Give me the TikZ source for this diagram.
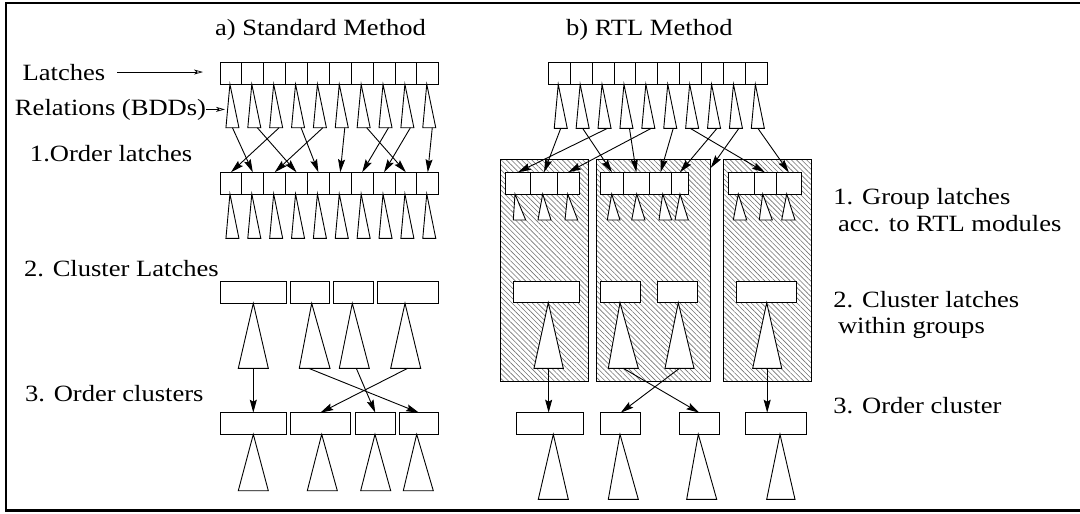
\documentclass[tikz,border=0pt]{standalone}
\usepackage{fontspec}
\setmainfont{Liberation Serif}[FakeStretch=1.14]
\usetikzlibrary{arrows.meta,patterns.meta,calc}
\tikzset{
 cellbox/.style={draw, line width=0.9pt, fill=white, rectangle, inner sep=0pt, outer sep=0pt, anchor=north west},
 grpbox/.style={draw, line width=0.9pt, rectangle, inner sep=0pt, outer sep=0pt, anchor=north west,
   pattern={Lines[angle=-45,distance=3.6pt,line width=0.6pt]}, pattern color=black!55},
 trishape/.style={draw, line width=0.9pt, fill=white, line join=miter},
 conn/.style={line width=0.9pt, -{Stealth[length=13pt,width=7pt,inset=2pt]}},
 labarr/.style={line width=0.7pt, -{Stealth[length=9pt,width=5pt,inset=2.5pt,open]}},
 lab/.style={anchor=base west, inner sep=0pt, outer sep=0pt, font=\fontsize{23.3}{27}\selectfont},
 framestyle/.style={line width=2.5pt},
}
\newcommand\bx[6][cellbox]{\node[#1, minimum width={(#5-#3)*1pt}, minimum height={(#6-#4)*1pt}] (#2) at (#3,#4) {};}
\newcommand\tri[6]{\draw[trishape] (#2,#3) -- (#4,#6) -- (#5,#6) -- cycle; \coordinate (#1) at ({(#4+#5)/2},#6);}
\begin{document}
\begin{tikzpicture}[x=1pt,y=-1pt]
\useasboundingbox (0,0) rectangle (1080,514);
\draw[framestyle] (1080,3) -- (6,3) -- (6,510.3) -- (1080,510.3);

% titles and labels
\node[lab] (hA) at (215,35) {a) Standard Method};
\node[lab] (hB) at (566,35) {b) RTL Method};
\node[lab] (latlab) at (22.7,80) {Latches};
\node[lab] (rellab) at (15,115) {Relations (BDDs)};
\node[lab] (s1) at (30,161.7) {1.Order latches};
\node[lab] (s2) at (24,276) {2. Cluster Latches};
\node[lab] (s3) at (25,401.7) {3. Order clusters};
\node[lab] (r1) at (833.3,204.5) {1. Group latches};
\node[lab] (r1b) at (838,231.5) {acc. to RTL modules};
\node[lab] (r2) at (833.3,307) {2. Cluster latches};
\node[lab] (r2b) at (838,333.5) {within groups};
\node[lab] (r3) at (833.3,413.5) {3. Order cluster};

% group boxes
\bx[grpbox]{Grp1}{500.7}{159}{588.3}{381.7}
\bx[grpbox]{Grp2}{596}{159}{710.7}{381.7}
\bx[grpbox]{Grp3}{723.3}{159}{811}{381.7}

% standard method latch rows
\foreach \i in {1,...,10}{
 \pgfmathsetmacro\xa{220+(\i-1)*21.87}
 \pgfmathsetmacro\xb{\xa+21.87}
 \pgfmathsetmacro\cx{\xa+10.935}
 \bx{L\i}{\xa}{62.7}{\xb}{84.3}
 \bx{M\i}{\xa}{172.3}{\xb}{194}
 \tri{T\i}{\cx-1}{84.3}{\cx-5}{\cx+8}{127.7}
 \tri{U\i}{\cx-1}{194}{\cx-5}{\cx+8}{238.3}
}
% RTL top latch row
\foreach \i in {1,...,10}{
 \pgfmathsetmacro\xa{548.3+(\i-1)*21.9}
 \pgfmathsetmacro\xb{\xa+21.9}
 \pgfmathsetmacro\cx{\xa+10.95}
 \bx{RL\i}{\xa}{62.7}{\xb}{84.3}
 \tri{RT\i}{\cx-1}{84.3}{\cx-5}{\cx+8}{128.3}
}

% label arrows
\coordinate (latend) at (203,71.7);
\coordinate (relend) at (225,109);
\draw[labarr] ([xshift=12pt]latlab.east) -- (latlab.east -| latend);
\draw[labarr] (rellab.east) -- (rellab.east -| relend);

% group latches
\bx{A1}{505}{172.3}{530.7}{194}
\bx{A2}{530.7}{172.3}{557.3}{194}
\bx{A3}{557.3}{172.3}{579}{194}
\bx{B1}{600.7}{172.3}{623.3}{194}
\bx{B2}{623.3}{172.3}{649.3}{194}
\bx{B3}{649.3}{172.3}{671.7}{194}
\bx{B4}{671.7}{172.3}{688.3}{194}
\bx{E1}{728.3}{172.3}{754}{194}
\bx{E2}{754}{172.3}{776}{194}
\bx{E3}{776}{172.3}{801.7}{194}
\tri{AT1}{515}{194}{513.3}{525.7}{220}
\tri{AT2}{542.7}{194}{538}{551}{220}
\tri{AT3}{567.7}{194}{565}{577.7}{220}
\tri{BT1}{611.7}{194}{607.3}{620}{220}
\tri{BT2}{636.7}{194}{631.7}{645}{220}
\tri{BT3}{662.7}{194}{659}{671.7}{220}
\tri{BT4}{680}{194}{675}{688.3}{220}
\tri{ET1}{738.3}{194}{733.3}{746.7}{220}
\tri{ET2}{762.7}{194}{759.3}{772.3}{220}
\tri{ET3}{786.7}{194}{781.7}{795}{220}

% standard clusters
\bx{C1}{220}{281.7}{286}{303.3}
\bx{C2}{290}{281.7}{329.3}{303.3}
\bx{C3}{333.3}{281.7}{373.3}{303.3}
\bx{C4}{377.3}{281.7}{438.7}{303.3}
\tri{CT1}{253.3}{303.3}{238.3}{268.3}{368.3}
\tri{CT2}{311.7}{303.3}{299.3}{330}{368.3}
\tri{CT3}{352.3}{303.3}{339.3}{369.3}{368.3}
\tri{CT4}{405}{303.3}{390.7}{420.7}{368.3}
\bx{D1}{220}{412.7}{286}{434.3}
\bx{D2}{290}{412.7}{350.7}{434.3}
\bx{D3}{355.3}{412.7}{395.3}{434.3}
\bx{D4}{399.3}{412.7}{438.7}{434.3}
\tri{DT1}{253.3}{434.3}{238.3}{268.3}{490.7}
\tri{DT2}{321.7}{434.3}{307.3}{337.3}{490.7}
\tri{DT3}{375}{434.3}{360.7}{390.7}{490.7}
\tri{DT4}{416.7}{434.3}{403.3}{433.3}{490.7}

% RTL clusters
\bx{K1}{513.3}{281.7}{579}{302.7}
\bx{K2}{600.7}{281.7}{640}{302.7}
\bx{K3}{657.3}{281.7}{697.3}{302.7}
\bx{K4}{736}{281.7}{796.7}{302.7}
\tri{KT1}{548.3}{302.7}{534}{563.3}{368.3}
\tri{KT2}{620}{302.7}{608.3}{638.3}{368.3}
\tri{KT3}{678.3}{302.7}{665}{694}{368.3}
\tri{KT4}{766.7}{302.7}{752.7}{781.7}{368.3}
\bx{R1}{516.7}{412.7}{583.3}{434.3}
\bx{R2}{600.7}{412.7}{640.7}{434.3}
\bx{R3}{679.3}{412.7}{719.3}{434.3}
\bx{R4}{745.7}{412.7}{806.7}{434.3}
\tri{QT1}{553.3}{434.3}{538.3}{568.3}{499.3}
\tri{QT2}{620}{434.3}{608.3}{638.3}{499.3}
\tri{QT3}{698.3}{434.3}{686.7}{716.7}{499.3}
\tri{QT4}{780}{434.3}{766.7}{795}{499.3}

% standard method arrows
\draw[conn] (T1) -- (M2.north);
\draw[conn] ([xshift=3pt]T3) -- (M1.north);
\draw[conn] ([xshift=3pt]T2) -- (M4.north);
\draw[conn] ([xshift=3pt]T5) -- (M3.north);
\draw[conn] ([xshift=3pt]T4) -- (M5.north);
\draw[conn] ([xshift=3pt]T6) -- (M6.north);
\draw[conn] ([xshift=3pt]T8) -- (M7.north);
\draw[conn] ([xshift=3pt]T9) -- (M8.north);
\draw[conn] ([xshift=3pt]T7) -- (M9.north);
\draw[conn] ([xshift=3pt]T10) -- (M10.north);
\draw[conn] (CT1) -- (CT1 |- D1.north);
\draw[conn] ([xshift=-6pt]CT2) -- (D4.north);
\draw[conn] ([xshift=2pt]CT3) -- (D3.north);
\draw[conn] ([xshift=2pt]CT4) -- (D2.north);

% RTL arrows
\coordinate (g2edge) at ($(Grp2.north east)!0.04!(Grp2.south east)$);
\draw[conn] (RT1) -- (A2.north);
\draw[conn] ([xshift=3pt]RT3) -- (A1.north);
\draw[conn] ([xshift=3pt]RT5) -- (A3.north);
\draw[conn] (RT2) -- (B1.north);
\draw[conn] ([xshift=3pt]RT4) -- (B2.north);
\draw[conn] ([xshift=3pt]RT6) -- (B3.north);
\draw[conn] ([xshift=3pt]RT8) -- (B4.north);
\draw[conn] ([xshift=3pt]RT9) -- (g2edge);
\draw[conn] ([xshift=-2pt]RT7) -- (E2.north);
\draw[conn] (RT10) -- (E3.north);
\draw[conn] (KT1) -- (KT1 |- R1.north);
\draw[conn] (KT2) -- (R3.north);
\draw[conn] (KT3) -- (R2.north);
\draw[conn] (KT4) -- (KT4 |- R4.north);
\end{tikzpicture}
\end{document}
